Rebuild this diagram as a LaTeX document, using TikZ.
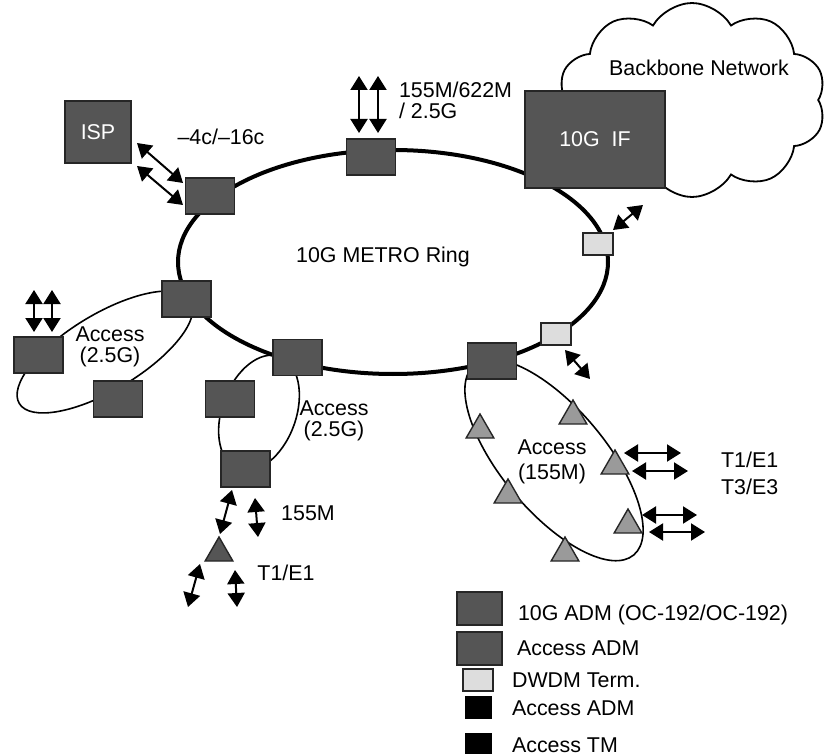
\documentclass[tikz,border=0pt]{standalone}
\usepackage{fontspec}
\setmainfont{Liberation Sans}
\usetikzlibrary{shapes.geometric,shapes.symbols,arrows.meta}
\definecolor{admgray}{HTML}{555555}
\definecolor{tmgray}{HTML}{9A9A9A}
\definecolor{dwdmgray}{HTML}{DDDDDD}
\tikzset{
    >={Triangle[length=7pt,width=8.5pt]},
    io/.style={draw,<->,line width=1pt}
}

\begin{document}
\begin{tikzpicture}[x=0.5pt,y=-0.5pt,
                    font=\fontsize{10.7}{10.5}\selectfont,
                    adm/.style={draw=black!85,fill=admgray,line width=0.8pt,minimum width=24.5pt,minimum height=18pt,inner sep=0pt},
                    dwdm/.style={draw=black!85,fill=dwdmgray,line width=0.8pt,minimum width=15pt,minimum height=11pt,inner sep=0pt},
                    tm/.style={regular polygon,regular polygon sides=3,draw=black!85,fill=tmgray,line width=0.7pt,minimum size=16pt,inner sep=0pt},
                    ring/.style={line width=2pt},
                    access/.style={line width=0.8pt}]
\useasboundingbox (0,0) rectangle (824,754);

% Backbone cloud
\node[cloud,draw,line width=0.9pt,cloud puffs=10,cloud puff arc=120,cloud ignores aspect,
      minimum width=134pt,minimum height=97pt] (cloud) at (692,100) {};
\node (bbtext) at (699,68) {Backbone Network};

% Rings
\draw[ring] (393,262) ellipse [x radius=107.5pt,y radius=56pt];
\draw[access,rotate around={31:(105,352)}] (105,352) ellipse [x radius=50pt,y radius=19pt];
\draw[access,rotate around={70:(259,413)}] (259,413) ellipse [x radius=30pt,y radius=18.5pt];
\draw[access,rotate around={-50:(554,460)}] (554,460) ellipse [x radius=62pt,y radius=26pt];

% ADMs on the metro ring
\node[adm,minimum width=70pt,minimum height=48.5pt,text=white] (ifbox) at (595,139.5) {10G~~IF};
\node[adm,minimum width=33pt,minimum height=31pt,text=white] (isp) at (98,132) {ISP};
\node[adm] (mtop) at (371,157) {};
\node[adm] (misp) at (210,196) {};
\node[adm] (mleft) at (186.5,299) {};
\node[adm] (mbot) at (297.5,357.5) {};
\node[adm] (mright) at (492,361) {};
\node[dwdm] (dwup) at (598,244) {};
\node[dwdm] (dwlow) at (556,334) {};

% Access ADMs
\node[adm] (aleft) at (38.5,355) {};
\node[adm] (alow) at (118,399) {};
\node[adm] (amid) at (230,399) {};
\node[adm] (abot) at (245.5,469) {};
\node[tm,fill=admgray] (tmbot) at (219,553) {};

% Access TMs (155M)
\node[tm] (tm1) at (573,416) {};
\node[tm] (tm2) at (480,430) {};
\node[tm] (tm3) at (615,466) {};
\node[tm] (tm4) at (508,495) {};
\node[tm] (tm5) at (628,525) {};
\node[tm] (tm6) at (565,553) {};

% Tributaries
\foreach \nm/\xa/\ya/\xb/\yb in {top1/359/76/359/133, top2/378/76/378/133,
    isp1/137/143/183/183, isp2/137/166/183/205,
    dwu/613/230/643/205, dwl/565/350/590/379,
    t1/624/453/681/453, t2/632/471/688/471, t3/642/515/697/515, t4/649/532/705/532,
    lv1/34/290/34/332, lv2/52/290/52/332,
    b1/232/490/220/534, b2/255/498/258/537,
    c1/200/564/188/607, c2/235/570/237/607}
{
    \coordinate (\nm-s) at (\xa,\ya);
    \coordinate (\nm-e) at (\xb,\yb);
    \draw[io] (\nm-s) -- (\nm-e);
}

% Labels
\node (ringtext) at (383,257) {10G METRO Ring};
\node (rates) at (221,137) {--4c/--16c};
\node[anchor=west,align=left] (toprates) at (392,100) {155M/622M\\/ 2.5G};
\node[align=center] (accl) at (110,347) {Access\\(2.5G)};
\node[align=center] (accm) at (334,421) {Access\\(2.5G)};
\node[align=center] (accr) at (552,462) {Access\\[2pt](155M)};
\node[anchor=west,align=left] (tribr) at (714,473) {T1/E1\\[3pt]T3/E3};
\node (r155) at (308,513) {155M};
\node (tribl) at (286,573) {T1/E1};

% Legend
\node[adm,minimum width=22.5pt,minimum height=16.5pt] (lg1) at (479.5,608.5) {};
\node[adm,minimum width=22.5pt,minimum height=16.5pt] (lg2) at (479.5,648.5) {};
\node[dwdm] (lg3) at (478,680) {};
\node[fill=black,minimum width=13.5pt,minimum height=11.5pt,inner sep=0pt] (lg4) at (478.5,707.5) {};
\node[fill=black,minimum width=13.5pt,minimum height=11.5pt,inner sep=0pt] (lg5) at (478.5,744) {};
\node[anchor=west] (lt1) at (511,615) {10G ADM (OC-192/OC-192)};
\node[anchor=west] (lt2) at (510,648) {Access ADM};
\node[anchor=west] (lt3) at (505,680) {DWDM Term.};
\node[anchor=west] (lt4) at (505,708) {Access ADM};
\node[anchor=west] (lt5) at (505,745) {Access TM};

\end{tikzpicture}
\end{document}
